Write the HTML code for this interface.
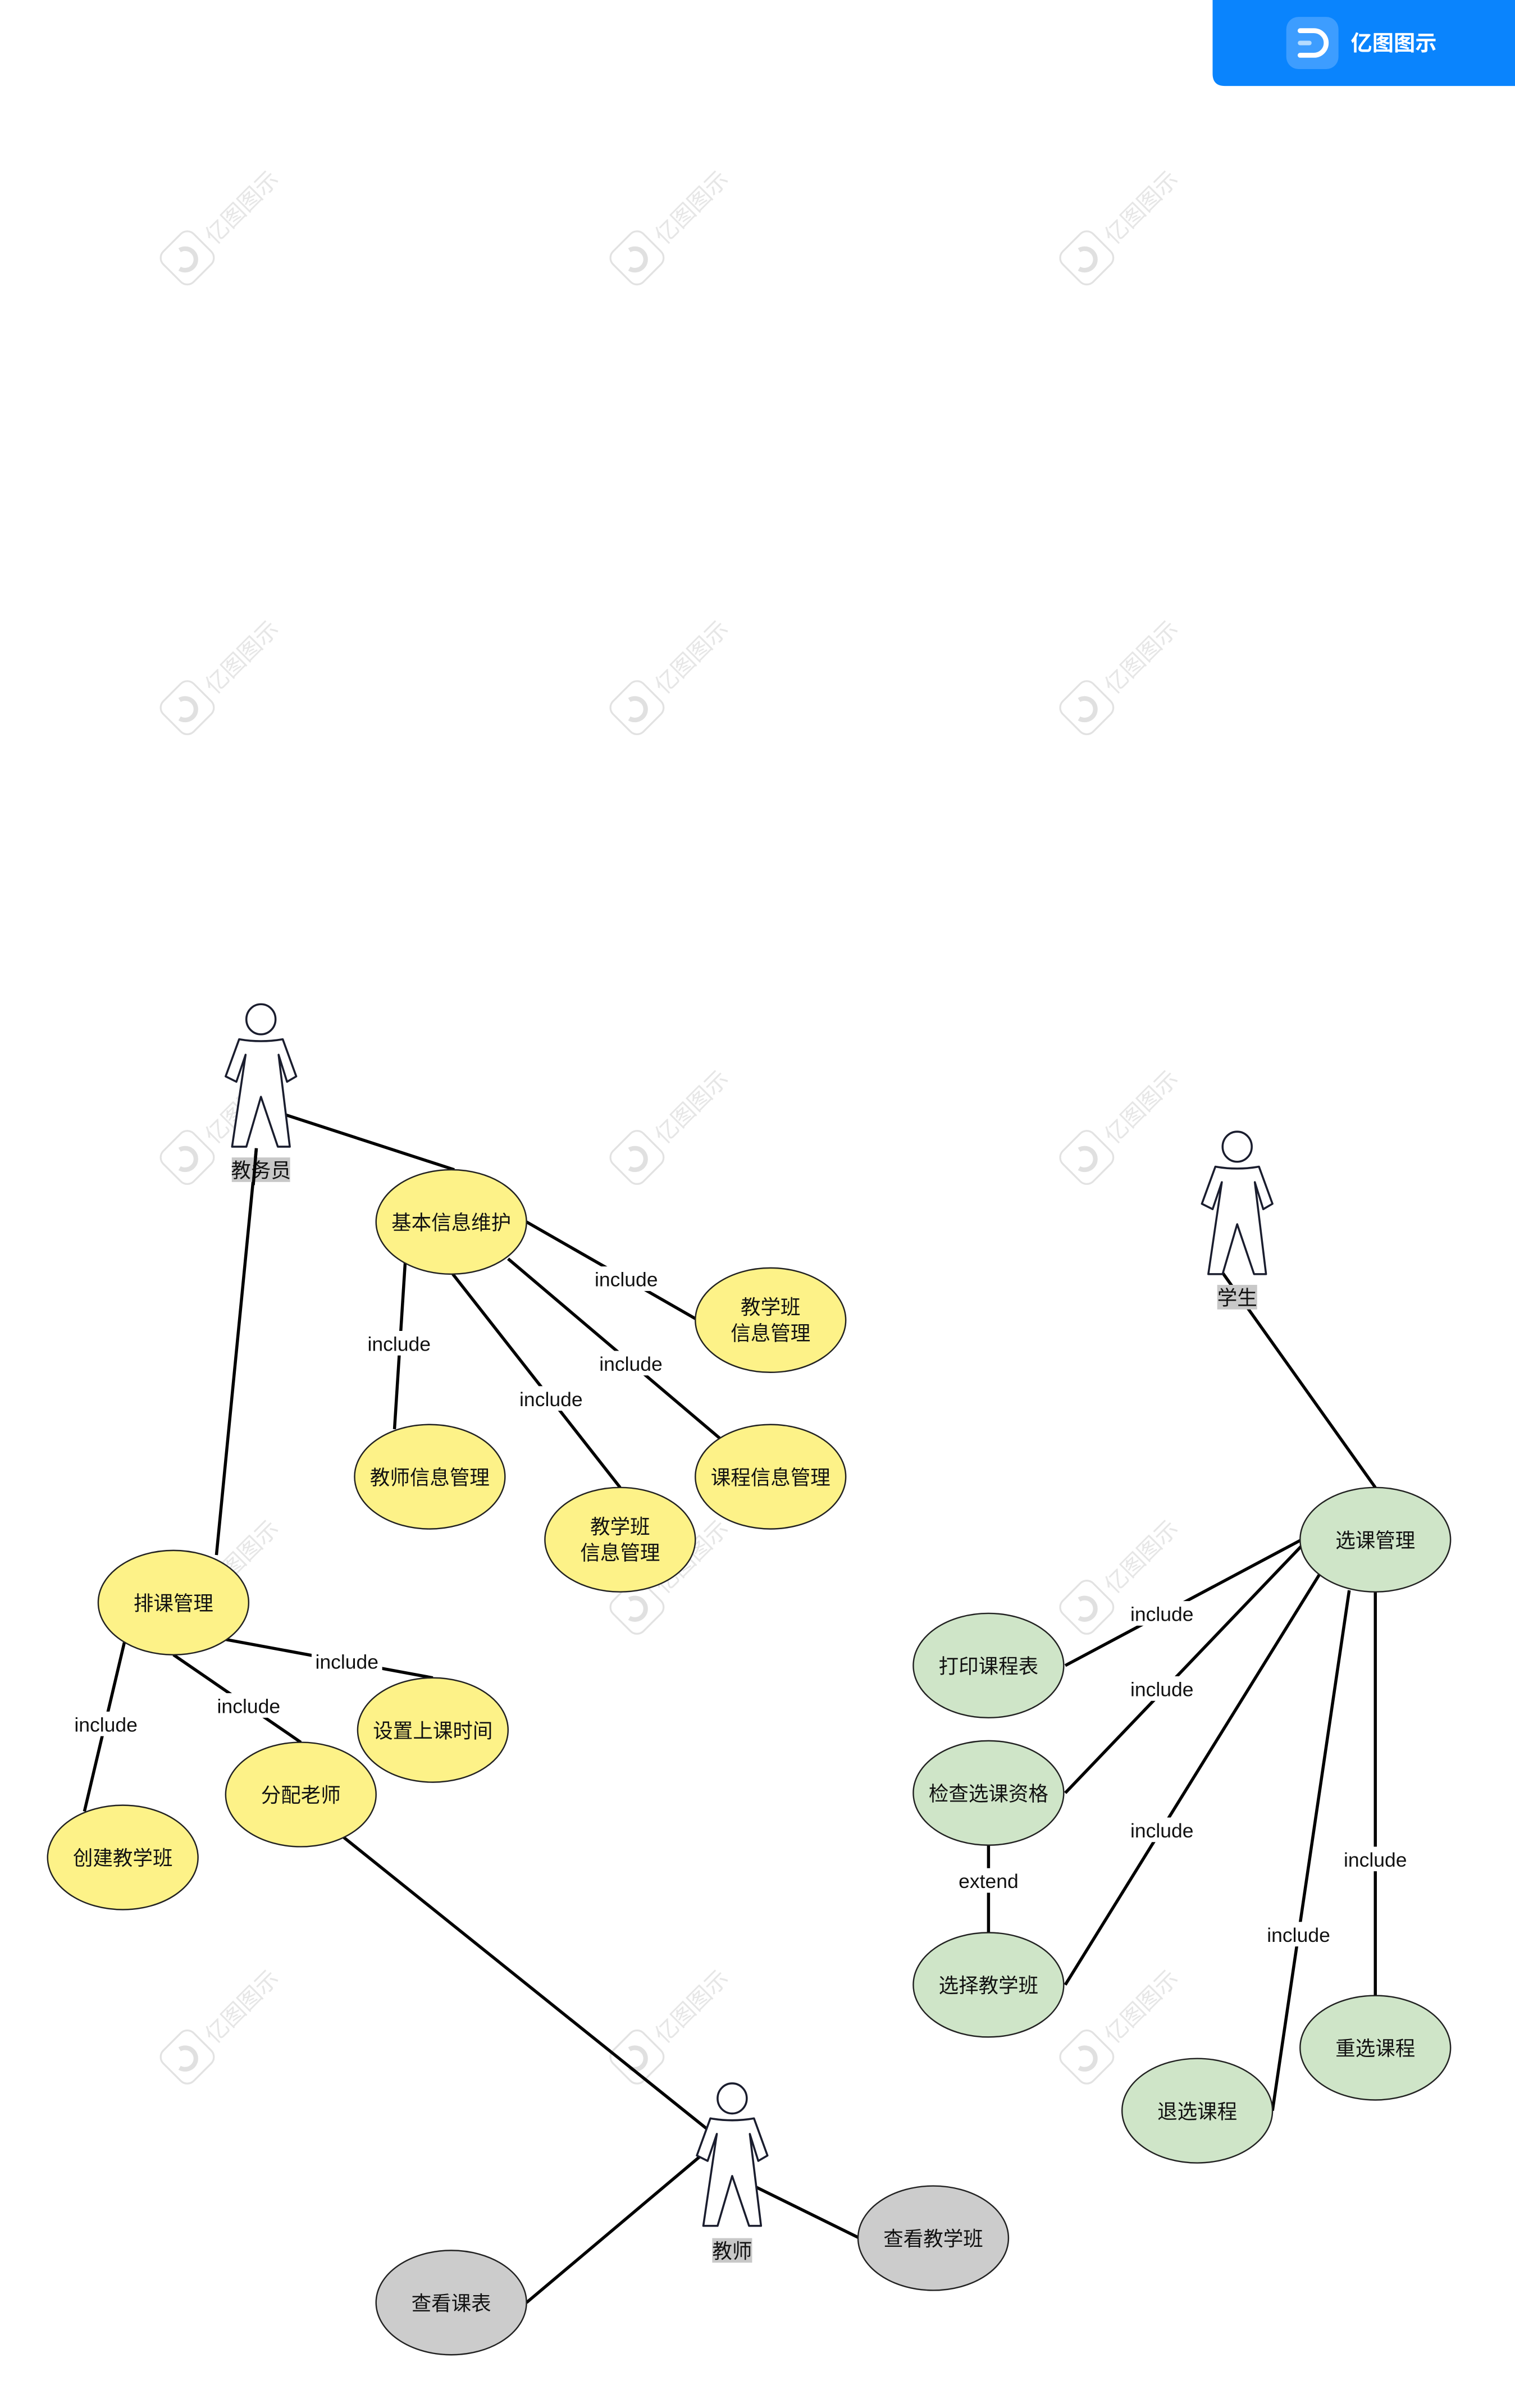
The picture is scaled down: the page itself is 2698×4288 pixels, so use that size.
<!DOCTYPE html>
<html><head><meta charset="utf-8"><style>
html,body{margin:0;padding:0;background:#fff;}
svg{display:block;}
text{font-family:"Liberation Sans","Noto Sans CJK SC",sans-serif;}
</style></head><body>
<svg width="2698" height="4288" viewBox="0 0 987 1568.66" xmlns="http://www.w3.org/2000/svg">
<defs>
<g id="act"><ellipse cx="0" cy="0" rx="9.5" ry="9.8" fill="#fff" stroke="#1a1d2e" stroke-width="1.3"/>
<path d="M-14.2,13 Q0,15.5 14.2,13 L23,37.2 L17,40.7 L11.5,23.1 L18.8,83 L11,83 L0,50.5 L-9.5,83 L-18.8,83 L-10,23.1 L-16,40.7 L-23,37.2 Z" fill="#fff" stroke="#1a1d2e" stroke-width="1.3" stroke-linejoin="round"/></g>
<g id="wm" fill="none" stroke="#e2e2e2" stroke-width="1.2"><rect x="-14" y="-14" width="28" height="28" rx="6" transform="rotate(45)"/><path d="M-5,-5 A7,7 0 1 1 -5,7" stroke="#e0e0e0" stroke-width="3"/></g>
</defs>
<g font-size="15" fill="#e6e6e6">
<g transform="translate(122,168)"><use href="#wm"/></g><text transform="translate(140,160) rotate(-45)">亿图图示</text>
<g transform="translate(415,168)"><use href="#wm"/></g><text transform="translate(433,160) rotate(-45)">亿图图示</text>
<g transform="translate(708,168)"><use href="#wm"/></g><text transform="translate(726,160) rotate(-45)">亿图图示</text>
<g transform="translate(122,461)"><use href="#wm"/></g><text transform="translate(140,453) rotate(-45)">亿图图示</text>
<g transform="translate(415,461)"><use href="#wm"/></g><text transform="translate(433,453) rotate(-45)">亿图图示</text>
<g transform="translate(708,461)"><use href="#wm"/></g><text transform="translate(726,453) rotate(-45)">亿图图示</text>
<g transform="translate(122,754)"><use href="#wm"/></g><text transform="translate(140,746) rotate(-45)">亿图图示</text>
<g transform="translate(415,754)"><use href="#wm"/></g><text transform="translate(433,746) rotate(-45)">亿图图示</text>
<g transform="translate(708,754)"><use href="#wm"/></g><text transform="translate(726,746) rotate(-45)">亿图图示</text>
<g transform="translate(122,1047)"><use href="#wm"/></g><text transform="translate(140,1039) rotate(-45)">亿图图示</text>
<g transform="translate(415,1047)"><use href="#wm"/></g><text transform="translate(433,1039) rotate(-45)">亿图图示</text>
<g transform="translate(708,1047)"><use href="#wm"/></g><text transform="translate(726,1039) rotate(-45)">亿图图示</text>
<g transform="translate(122,1340)"><use href="#wm"/></g><text transform="translate(140,1332) rotate(-45)">亿图图示</text>
<g transform="translate(415,1340)"><use href="#wm"/></g><text transform="translate(433,1332) rotate(-45)">亿图图示</text>
<g transform="translate(708,1340)"><use href="#wm"/></g><text transform="translate(726,1332) rotate(-45)">亿图图示</text>
</g>
<path d="M790,0 H987 V56 H798 Q790,56 790,48 Z" fill="#0a84fd"/>
<rect x="838" y="11" width="34" height="34" rx="8" fill="#3d9dff"/>
<path d="M847,20 H856 A8,8 0 0 1 856,36 H847" fill="none" stroke="#fff" stroke-width="3.2" stroke-linecap="round"/>
<line x1="847" y1="28" x2="853" y2="28" stroke="#b5dcff" stroke-width="3" stroke-linecap="round"/>
<text x="880" y="33" font-size="14" fill="#fff" font-weight="bold">亿图图示</text>
<g stroke="#000" stroke-width="2" fill="none">
<line x1="173" y1="722" x2="296" y2="762"/>
<line x1="167" y1="748" x2="141" y2="1013"/>
<line x1="343" y1="796" x2="453" y2="859"/>
<line x1="264" y1="822" x2="257" y2="931"/>
<line x1="295" y1="830" x2="404" y2="969"/>
<line x1="331" y1="820" x2="469" y2="937"/>
<line x1="147" y1="1068" x2="282" y2="1093"/>
<line x1="113" y1="1078" x2="196" y2="1135"/>
<line x1="81" y1="1070" x2="55" y2="1180"/>
<line x1="224" y1="1197" x2="462" y2="1388"/>
<line x1="457" y1="1404" x2="343" y2="1500"/>
<line x1="491" y1="1424" x2="560" y2="1458"/>
<line x1="790" y1="820" x2="896" y2="969"/>
<line x1="848" y1="1003" x2="694" y2="1085"/>
<line x1="848" y1="1007" x2="694" y2="1168"/>
<line x1="860" y1="1025" x2="694" y2="1293"/>
<line x1="879" y1="1036" x2="829" y2="1375"/>
<line x1="896" y1="1037" x2="896" y2="1300"/>
<line x1="644" y1="1202" x2="644" y2="1259"/>
</g>
<g font-size="13" text-anchor="middle" fill="#111">
<rect x="385" y="825" width="46" height="16" fill="#fff"/><text x="408" y="838">include</text>
<rect x="237" y="867" width="46" height="16" fill="#fff"/><text x="260" y="880">include</text>
<rect x="336" y="903" width="46" height="16" fill="#fff"/><text x="359" y="916">include</text>
<rect x="388" y="880" width="46" height="16" fill="#fff"/><text x="411" y="893">include</text>
<rect x="203" y="1074" width="46" height="16" fill="#fff"/><text x="226" y="1087">include</text>
<rect x="139" y="1103" width="46" height="16" fill="#fff"/><text x="162" y="1116">include</text>
<rect x="46" y="1115" width="46" height="16" fill="#fff"/><text x="69" y="1128">include</text>
<rect x="734" y="1043" width="46" height="16" fill="#fff"/><text x="757" y="1056">include</text>
<rect x="734" y="1092" width="46" height="16" fill="#fff"/><text x="757" y="1105">include</text>
<rect x="734" y="1184" width="46" height="16" fill="#fff"/><text x="757" y="1197">include</text>
<rect x="823" y="1252" width="46" height="16" fill="#fff"/><text x="846" y="1265">include</text>
<rect x="873" y="1203" width="46" height="16" fill="#fff"/><text x="896" y="1216">include</text>
<rect x="623" y="1217" width="42" height="16" fill="#fff"/><text x="644" y="1230">extend</text>
</g>
<g stroke="#222" stroke-width="0.9">
<g fill="#fdf288">
<ellipse cx="294" cy="796" rx="49" ry="34"/>
<ellipse cx="502" cy="860" rx="49" ry="34"/>
<ellipse cx="280" cy="962" rx="49" ry="34"/>
<ellipse cx="404" cy="1003" rx="49" ry="34"/>
<ellipse cx="502" cy="962" rx="49" ry="34"/>
<ellipse cx="113" cy="1044" rx="49" ry="34"/>
<ellipse cx="282" cy="1127" rx="49" ry="34"/>
<ellipse cx="196" cy="1169" rx="49" ry="34"/>
<ellipse cx="80" cy="1210" rx="49" ry="34"/>
</g>
<g fill="#cfe5c8">
<ellipse cx="896" cy="1003" rx="49" ry="34"/>
<ellipse cx="644" cy="1085" rx="49" ry="34"/>
<ellipse cx="644" cy="1168" rx="49" ry="34"/>
<ellipse cx="644" cy="1293" rx="49" ry="34"/>
<ellipse cx="896" cy="1334" rx="49" ry="34"/>
<ellipse cx="780" cy="1375" rx="49" ry="34"/>
</g>
<g fill="#cccccc">
<ellipse cx="294" cy="1500" rx="49" ry="34"/>
<ellipse cx="608" cy="1458" rx="49" ry="34"/>
</g>
</g>
<g font-size="13" text-anchor="middle" fill="#111">
<text x="294" y="801">基本信息维护</text>
<text x="502" y="856">教学班</text><text x="502" y="873">信息管理</text>
<text x="280" y="967">教师信息管理</text>
<text x="404" y="999">教学班</text><text x="404" y="1016">信息管理</text>
<text x="502" y="967">课程信息管理</text>
<text x="113" y="1049">排课管理</text>
<text x="282" y="1132">设置上课时间</text>
<text x="196" y="1174">分配老师</text>
<text x="80" y="1215">创建教学班</text>
<text x="896" y="1008">选课管理</text>
<text x="644" y="1090">打印课程表</text>
<text x="644" y="1173">检查选课资格</text>
<text x="644" y="1298">选择教学班</text>
<text x="896" y="1339">重选课程</text>
<text x="780" y="1380">退选课程</text>
<text x="294" y="1505">查看课表</text>
<text x="608" y="1463">查看教学班</text>
</g>
<use href="#act" transform="translate(170,664)"/>
<use href="#act" transform="translate(806,747)"/>
<use href="#act" transform="translate(477,1367)"/>
<g font-size="13" text-anchor="middle" fill="#111">
<rect x="151" y="754" width="38" height="16" fill="#c8c8c8"/><text x="170" y="767">教务员</text>
<rect x="793" y="837" width="26" height="16" fill="#c8c8c8"/><text x="806" y="850">学生</text>
<rect x="464" y="1458" width="26" height="16" fill="#c8c8c8"/><text x="477" y="1471">教师</text>
</g>
<line x1="167" y1="748" x2="165" y2="772" stroke="#000" stroke-width="2"/>
</svg>
</body></html>
